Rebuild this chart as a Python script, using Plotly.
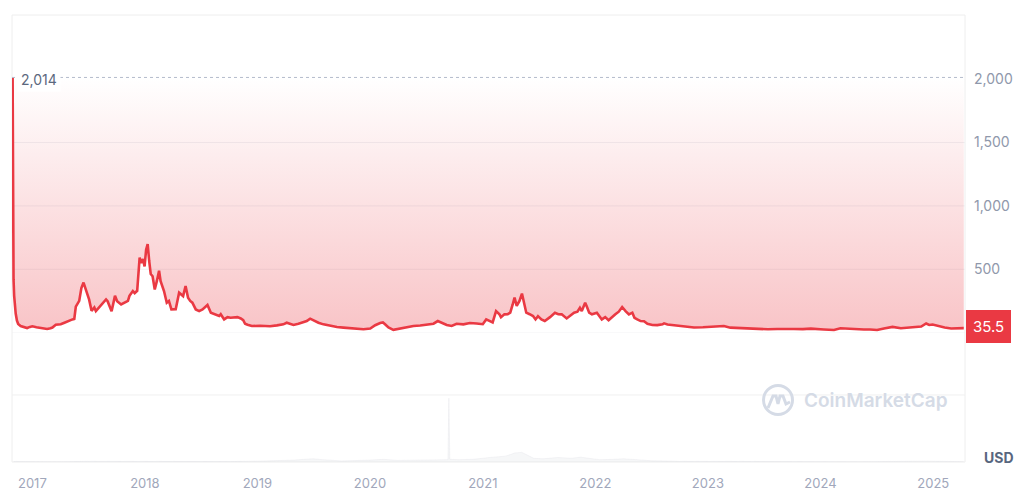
import plotly.graph_objects as go

# ---------------- data ----------------
PRICE_DATES = [
    "2016-10-29", "2016-10-30", "2016-10-31", "2016-11-01", "2016-11-03", "2016-11-05",
    "2016-11-08", "2016-11-12", "2016-11-16", "2016-11-24", "2016-12-05", "2016-12-15",
    "2016-12-24", "2017-01-01", "2017-01-14", "2017-01-28", "2017-02-10", "2017-02-18",
    "2017-03-01", "2017-03-07", "2017-03-18", "2017-04-03", "2017-04-15", "2017-04-25",
    "2017-05-11", "2017-05-17", "2017-05-22", "2017-06-02", "2017-06-09", "2017-06-16",
    "2017-06-23", "2017-07-04", "2017-07-12", "2017-07-21", "2017-07-26", "2017-08-04",
    "2017-08-11", "2017-08-20", "2017-08-28", "2017-09-02", "2017-09-15", "2017-09-26",
    "2017-10-03", "2017-10-16", "2017-10-27", "2017-11-07", "2017-11-12", "2017-11-23",
    "2017-11-29", "2017-12-07", "2017-12-15", "2017-12-20", "2017-12-26", "2017-12-31",
    "2018-01-05", "2018-01-10", "2018-01-15", "2018-01-20", "2018-01-26", "2018-02-02",
    "2018-02-09", "2018-02-16", "2018-02-21", "2018-03-04", "2018-03-13", "2018-03-20",
    "2018-03-28", "2018-04-11", "2018-04-22", "2018-04-29", "2018-05-05", "2018-05-13",
    "2018-05-21", "2018-05-28", "2018-06-04", "2018-06-15", "2018-06-26", "2018-07-07",
    "2018-07-18", "2018-07-23", "2018-08-03", "2018-08-19", "2018-08-30", "2018-09-04",
    "2018-09-15", "2018-09-26", "2018-10-06", "2018-10-28", "2018-11-08", "2018-11-16",
    "2018-11-22", "2018-11-30", "2018-12-14", "2019-01-10", "2019-02-11", "2019-03-05",
    "2019-03-26", "2019-04-06", "2019-04-28", "2019-05-14", "2019-05-30", "2019-06-10",
    "2019-06-21", "2019-07-01", "2019-07-18", "2019-08-03", "2019-08-25", "2019-09-16",
    "2019-10-07", "2019-10-29", "2019-11-20", "2019-12-11", "2020-01-02", "2020-01-18",
    "2020-02-03", "2020-02-12", "2020-02-19", "2020-03-01", "2020-03-17", "2020-04-08",
    "2020-04-29", "2020-05-21", "2020-06-12", "2020-07-03", "2020-07-25", "2020-08-08",
    "2020-08-21", "2020-09-06", "2020-09-22", "2020-10-08", "2020-10-30", "2020-11-20",
    "2020-12-12", "2020-12-23", "2021-01-01", "2021-01-12", "2021-01-23", "2021-02-02",
    "2021-02-13", "2021-02-24", "2021-03-01", "2021-03-12", "2021-03-23", "2021-03-31",
    "2021-04-08", "2021-04-14", "2021-04-21", "2021-04-30", "2021-05-08", "2021-05-16",
    "2021-05-22", "2021-06-02", "2021-06-13", "2021-06-21", "2021-06-29", "2021-07-10",
    "2021-07-21", "2021-08-07", "2021-08-23", "2021-09-03", "2021-09-14", "2021-09-30",
    "2021-10-11", "2021-10-24", "2021-11-04", "2021-11-12", "2021-11-18", "2021-11-29",
    "2021-12-04", "2021-12-12", "2021-12-21", "2022-01-06", "2022-01-22", "2022-02-02",
    "2022-02-13", "2022-02-24", "2022-03-07", "2022-03-18", "2022-03-29", "2022-04-09",
    "2022-04-20", "2022-05-01", "2022-05-08", "2022-05-17", "2022-05-28", "2022-06-08",
    "2022-06-19", "2022-07-05", "2022-07-21", "2022-08-07", "2022-08-12", "2022-08-23",
    "2022-09-14", "2022-10-16", "2022-11-17", "2022-12-16", "2023-01-10", "2023-02-22",
    "2023-03-15", "2023-04-27", "2023-05-20", "2023-06-20", "2023-07-15", "2023-08-14",
    "2023-09-10", "2023-10-07", "2023-11-05", "2023-12-01", "2024-01-12", "2024-02-14",
    "2024-03-06", "2024-04-07", "2024-05-21", "2024-06-10", "2024-07-03", "2024-07-25",
    "2024-08-22", "2024-09-18", "2024-10-01", "2024-10-21", "2024-11-23", "2024-12-09",
    "2024-12-19", "2024-12-30", "2025-01-16", "2025-02-07", "2025-02-28", "2025-03-21",
    "2025-04-10",
]
PRICE_VALUES = [
    2014, 1150, 700, 420, 290, 210,
    150, 95, 68, 52, 44, 36,
    45, 50, 42, 38, 33, 28,
    34, 40, 62, 66, 78, 90,
    104, 108, 205, 250, 352, 395,
    340, 262, 172, 198, 170, 195,
    210, 235, 262, 248, 168, 290,
    248, 222, 236, 250, 290, 328,
    312, 330, 592, 550, 580, 522,
    655, 698, 565, 462, 445, 340,
    408, 488, 405, 328, 236, 250,
    183, 185, 315, 300, 288, 368,
    275, 250, 236, 183, 170, 183,
    210, 218, 157, 144, 131, 145,
    104, 122, 117, 122, 112, 98,
    70, 62, 52, 54, 50, 57,
    65, 78, 60, 70, 86, 91,
    110, 97, 78, 65, 52, 44,
    39, 34, 27, 26, 32, 58,
    76, 80, 66, 40, 22, 34,
    44, 52, 56, 60, 70, 91,
    78, 60, 52, 70, 65, 76,
    72, 70, 66, 104, 90, 80,
    170, 144, 122, 144, 145, 157,
    222, 276, 210, 250, 308, 222,
    157, 145, 131, 104, 130, 104,
    92, 122, 157, 145, 144, 112,
    130, 157, 165, 196, 170, 236,
    208, 157, 144, 157, 104, 122,
    97, 117, 144, 165, 202, 170,
    144, 157, 117, 104, 91, 90,
    70, 60, 59, 65, 73, 64,
    57, 52, 40, 42, 46, 52,
    39, 34, 30, 24, 26, 28,
    30, 28, 27, 31, 24, 20,
    34, 28, 24, 25, 20, 33,
    45, 34, 36, 38, 48, 72,
    60, 64, 52, 40, 32, 34,
    35.5,
]

VOLUME_DATES = [
    "2016-11-01", "2017-01-01", "2017-04-01", "2017-07-01", "2017-10-01", "2018-01-01",
    "2018-04-01", "2018-07-01", "2018-10-01", "2019-01-01", "2019-03-01", "2019-05-01",
    "2019-06-15", "2019-07-01", "2019-08-01", "2019-10-01", "2020-01-01", "2020-02-15",
    "2020-04-01", "2020-06-01", "2020-08-01", "2020-09-10", "2020-09-13", "2020-09-16",
    "2020-10-15", "2020-12-01", "2021-01-15", "2021-02-15", "2021-03-15", "2021-04-01",
    "2021-04-15", "2021-05-08", "2021-05-20", "2021-06-15", "2021-07-15", "2021-09-01",
    "2021-10-15", "2021-11-15", "2021-12-10", "2022-01-15", "2022-03-01", "2022-04-01",
    "2022-05-15", "2022-07-01", "2022-10-01", "2023-01-01", "2023-06-01", "2024-01-01",
    "2024-06-01", "2024-12-10", "2025-04-10",
]
VOLUME_VALUES = [  # billions USD
    0.05, 0.03, 0.03, 0.06, 0.05, 0.10,
    0.08, 0.06, 0.04, 0.08, 0.12, 0.18,
    0.28, 0.30, 0.22, 0.10, 0.18, 0.25,
    0.15, 0.18, 0.22, 0.22, 6.00, 0.25,
    0.22, 0.25, 0.40, 0.50, 0.55, 0.70,
    0.85, 0.90, 0.75, 0.35, 0.30, 0.42,
    0.35, 0.45, 0.35, 0.22, 0.25, 0.30,
    0.22, 0.12, 0.06, 0.05, 0.03, 0.03,
    0.03, 0.08, 0.03,
]

YEAR_TICKS = ["2017-01-01", "2018-01-01", "2019-01-01", "2020-01-01", "2021-01-01",
              "2022-01-01", "2023-01-01", "2024-01-01", "2025-01-01"]
YEAR_LABELS = ["2017", "2018", "2019", "2020", "2021", "2022", "2023", "2024", "2025"]
PRICE_TICKS = [500, 1000, 1500, 2000]
PRICE_TICK_LABELS = ["500", "1,000", "1,500", "2,000"]
GRID_VALUES = [500, 1000, 1500]
HIGH_VALUE = 2014
LAST_VALUE = 35.5

RED = "#ea3943"
FONT = "Inter, Roboto, 'Noto Sans', sans-serif"

# layout geometry (pixels)
W, H = 1024, 503
ML, MR, MT, MB = 12, 59, 15, 41
PW, PH = W - ML - MR, H - MT - MB


def px(x):
    return (x - ML) / PW


def py(y):
    return (H - MB - y) / PH


fig = go.Figure()

# invisible price path (lower edge of gradient fill)
fig.add_trace(go.Scatter(
    x=PRICE_DATES, y=PRICE_VALUES, mode="lines", line=dict(width=0, color=RED),
    hoverinfo="skip", showlegend=False, yaxis="y"))
# top edge at the all-time high; fill down to price with gradient
fig.add_trace(go.Scatter(
    x=[PRICE_DATES[0], PRICE_DATES[-1]], y=[HIGH_VALUE, HIGH_VALUE], mode="lines",
    line=dict(width=0, color="rgba(0,0,0,0)"), fill="tonexty",
    fillgradient=dict(type="vertical", start=0, stop=HIGH_VALUE,
                      colorscale=[[0, "rgba(234,57,67,0.30)"], [1, "rgba(234,57,67,0.0)"]]),
    hoverinfo="skip", showlegend=False, yaxis="y"))
# visible price line
fig.add_trace(go.Scatter(
    x=PRICE_DATES, y=PRICE_VALUES, mode="lines", line=dict(width=2.6, color=RED),
    name="Price", showlegend=False, yaxis="y"))
# volume
fig.add_trace(go.Scatter(
    x=VOLUME_DATES, y=VOLUME_VALUES, mode="lines", line=dict(width=0.6, color="rgba(205,209,218,0.35)"),
    fill="tozeroy", fillcolor="rgba(205,209,218,0.18)", name="Volume", showlegend=False,
    yaxis="y2"))

shapes = []
# price gridlines
for g in GRID_VALUES:
    shapes.append(dict(type="line", xref="paper", yref="y", x0=0, x1=1, y0=g, y1=g,
                       line=dict(color="#eff1f4", width=1), layer="below"))
# price zero line
shapes.append(dict(type="line", xref="paper", yref="y", x0=0, x1=1, y0=0, y1=0,
                   line=dict(color="#f2f3f5", width=1), layer="below"))
# dotted all-time-high line
shapes.append(dict(type="line", xref="paper", yref="y", x0=0, x1=1, y0=HIGH_VALUE, y1=HIGH_VALUE,
                   line=dict(color="#b4bccb", width=1, dash="dot"), layer="above"))
# frame
shapes.append(dict(type="rect", xref="paper", yref="paper", x0=0, x1=1, y0=0, y1=1,
                   line=dict(color="#eeeeee", width=1), layer="below"))
# volume pane top
shapes.append(dict(type="line", xref="paper", yref="paper", x0=0, x1=1, y0=0.15, y1=0.15,
                   line=dict(color="#f0f0f0", width=1), layer="below"))
# watermark logo (ring + wave)
cx, cy, r = 778, 400, 14.5
shapes.append(dict(type="circle", xref="paper", yref="paper",
                   x0=px(cx - r), x1=px(cx + r), y0=py(cy + r), y1=py(cy - r),
                   line=dict(color="#d5dbe6", width=3), layer="below"))
wave = [(768, 408), (773, 396), (776, 396), (778, 404), (780, 396), (783, 396), (786, 404),
        (790, 402)]
path = "M " + " L ".join(f"{px(a):.5f},{py(b):.5f}" for a, b in wave)
shapes.append(dict(type="path", xref="paper", yref="paper", path=path,
                   line=dict(color="#d5dbe6", width=3), layer="below"))

annotations = [
    dict(xref="paper", yref="y", x=0, y=HIGH_VALUE, xanchor="left", yanchor="middle",
         xshift=5, yshift=-2, text="2,014", showarrow=False, bgcolor="white", borderpad=3,
         font=dict(family=FONT, size=14, color="#5c687e")),
    dict(xref="paper", yref="y", x=1, y=LAST_VALUE, xanchor="left", yanchor="middle",
         xshift=1, yshift=2, text="35.5", showarrow=False, bgcolor=RED, bordercolor=RED,
         borderpad=6, font=dict(family=FONT, size=15, color="white")),
    dict(xref="paper", yref="paper", x=1, y=py(457), xanchor="left", yanchor="middle",
         xshift=17, text="<b>USD</b>", showarrow=False,
         font=dict(family=FONT, size=14, color="#58667e")),
    dict(xref="paper", yref="paper", x=px(802), y=py(400), xanchor="left", yanchor="middle",
         text="CoinMarketCap", showarrow=False,
         font=dict(family=FONT, size=19, color="#d5dbe6", weight=600)),
]

fig.update_layout(
    width=W, height=H,
    margin=dict(l=ML, r=MR, t=MT, b=MB, pad=0),
    paper_bgcolor="white", plot_bgcolor="white",
    font=dict(family=FONT),
    hovermode="x",
    xaxis=dict(type="date", range=["2016-10-27", "2025-04-14"], anchor="y2",
               tickvals=YEAR_TICKS, ticktext=YEAR_LABELS, showgrid=False, showline=False,
               zeroline=False, ticks="", ticklabelstandoff=12,
               tickfont=dict(family=FONT, size=13, color="#a1a7bb")),
    yaxis=dict(domain=[0.2895, 1], range=[0, 2507], side="right", anchor="x",
               tickvals=PRICE_TICKS, ticktext=PRICE_TICK_LABELS, showgrid=False,
               zeroline=False, showline=False, ticks="", ticklabelstandoff=8,
               tickfont=dict(family=FONT, size=14, color="#8f98ab")),
    yaxis2=dict(domain=[0, 0.15], range=[0, 6.3], visible=False, anchor="x"),
    shapes=shapes,
    annotations=annotations,
)

fig.write_html("out.html", config={"displayModeBar": False},
               post_script="document.body.style.margin='0';")
